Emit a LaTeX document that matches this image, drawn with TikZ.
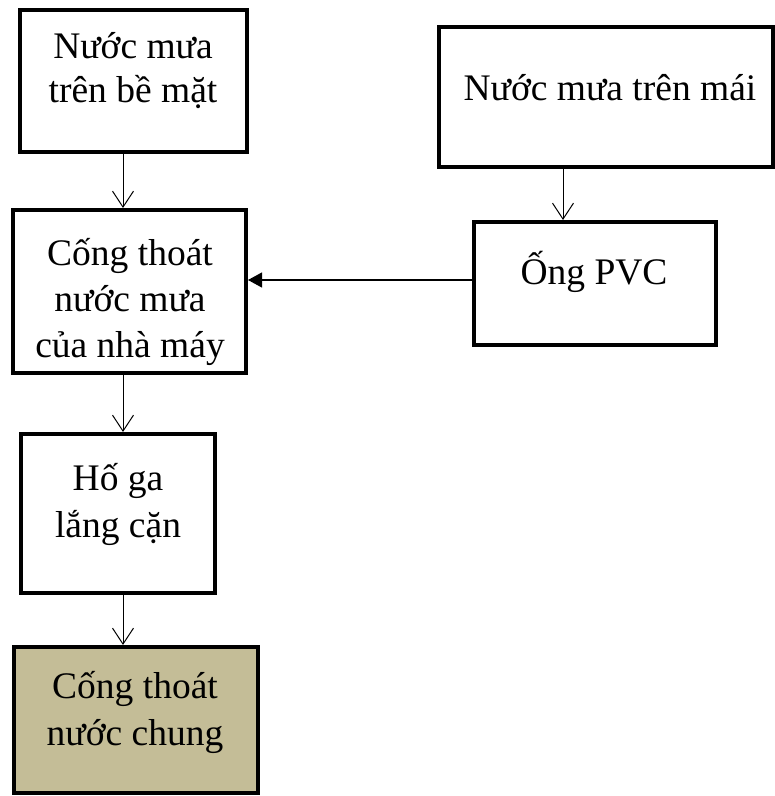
\documentclass[tikz,border=0pt]{standalone}
\usepackage{fontspec}
\setmainfont{Liberation Serif}
\usetikzlibrary{arrows.meta}
\definecolor{tanfill}{HTML}{C4BD97}
\begin{document}
\begin{tikzpicture}[x=1pt,y=-1pt,
  box/.style={draw, line width=4pt, inner sep=0pt, fill=white},
  txt/.style={anchor=base, inner sep=0pt, font=\fontsize{37.5}{45}\selectfont},
  flow/.style={line width=1pt, -{Straight Barb[length=16pt,width=21pt,line width=1pt]}},
  feed/.style={line width=1.2pt, -{Triangle[length=14pt,width=15pt]}}]
\useasboundingbox (0,0) rectangle (775,796);
% boxes (centre line of the frame)
\node[box, minimum width=227pt, minimum height=142pt] (b1) at (133.75,81) {};
\node[box, minimum width=233pt, minimum height=163pt] (b2) at (129.5,291.5) {};
\node[box, minimum width=194pt, minimum height=159pt] (b3) at (118,513.5) {};
\node[box, minimum width=244pt, minimum height=146pt, fill=tanfill] (b4) at (136,720) {};
\node[box, minimum width=334pt, minimum height=140pt] (b5) at (606,97) {};
\node[box, minimum width=242pt, minimum height=123pt] (b6) at (595,283.5) {};
% labels
\node[txt] (t1a) at (133,58) {Nước mưa};
\node[txt] (t1b) at (133,102) {trên bề mặt};
\node[txt] (t2a) at (130,265) {Cống thoát};
\node[txt] (t2b) at (130,311) {nước mưa};
\node[txt] (t2c) at (130,357) {của nhà máy};
\node[txt] (t3a) at (118,490) {Hố ga};
\node[txt] (t3b) at (118,537) {lắng cặn};
\node[txt] (t4a) at (135,698) {Cống thoát};
\node[txt] (t4b) at (135,745) {nước chung};
\node[txt] (t5) at (610,100) {Nước mưa trên mái};
\node[txt] (t6) at (594,284) {Ống PVC};
% connectors
\coordinate (c1) at (123,0);
\coordinate (c2) at (563,0);
\coordinate (c3) at (0,280);
\draw[flow] (b1.south -| c1) -- (b2.north -| c1);
\draw[flow] (b2.south -| c1) -- (b3.north -| c1);
\draw[flow] (b3.south -| c1) -- (b4.north -| c1);
\draw[flow] (b5.south -| c2) -- (b6.north -| c2);
\draw[feed] (b6.west |- c3) -- (b2.east |- c3);
\end{tikzpicture}
\end{document}
